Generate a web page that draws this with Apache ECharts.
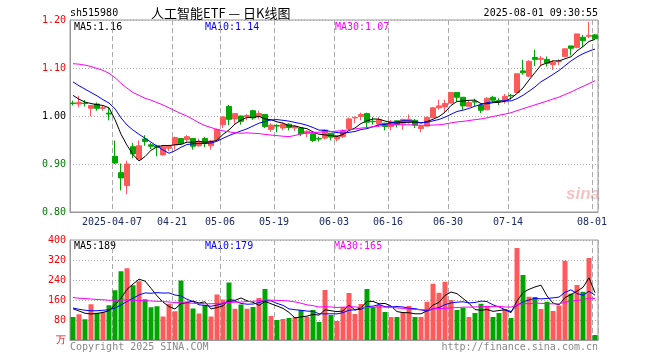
<!DOCTYPE html>
<html><head><meta charset="utf-8">
<script src="https://cdn.jsdelivr.net/npm/echarts@6/dist/echarts.min.js"></script>
<style>html,body{margin:0;padding:0;background:#fff}#c{width:660px;height:360px}</style>
</head><body><div id="c"></div>
<script>
const dates = ['2025-03-26','2025-03-27','2025-03-28','2025-03-31','2025-04-01','2025-04-02','2025-04-03','2025-04-07','2025-04-08','2025-04-09',
'2025-04-10','2025-04-11','2025-04-14','2025-04-15','2025-04-16','2025-04-17','2025-04-18','2025-04-21','2025-04-22','2025-04-23',
'2025-04-24','2025-04-25','2025-04-28','2025-04-29','2025-04-30','2025-05-06','2025-05-07','2025-05-08','2025-05-09','2025-05-12',
'2025-05-13','2025-05-14','2025-05-15','2025-05-16','2025-05-19','2025-05-20','2025-05-21','2025-05-22','2025-05-23','2025-05-26',
'2025-05-27','2025-05-28','2025-05-29','2025-05-30','2025-06-03','2025-06-04','2025-06-05','2025-06-06','2025-06-09','2025-06-10',
'2025-06-11','2025-06-12','2025-06-13','2025-06-16','2025-06-17','2025-06-18','2025-06-19','2025-06-20','2025-06-23','2025-06-24',
'2025-06-25','2025-06-26','2025-06-27','2025-06-30','2025-07-01','2025-07-02','2025-07-03','2025-07-04','2025-07-07','2025-07-08',
'2025-07-09','2025-07-10','2025-07-11','2025-07-14','2025-07-15','2025-07-16','2025-07-17','2025-07-18','2025-07-21','2025-07-22',
'2025-07-23','2025-07-24','2025-07-25','2025-07-28','2025-07-29','2025-07-30','2025-07-31','2025-08-01'];
const tickDates = ['2025-04-07','2025-04-21','2025-05-06','2025-05-19','2025-06-03','2025-06-16','2025-06-30','2025-07-14','2025-08-01'];

const opens = [1.027,1.025,1.027,1.016,1.025,1.016,1.006,0.916,0.882,0.855,
0.936,0.910,0.952,0.940,0.938,0.919,0.933,0.940,0.953,0.951,
0.953,0.938,0.953,0.938,0.951,0.982,1.020,0.994,1.000,0.999,
1.011,0.999,1.003,0.972,0.980,0.975,0.983,0.975,0.975,0.964,
0.963,0.953,0.954,0.964,0.952,0.957,0.974,0.996,0.999,1.005,
0.989,0.983,0.985,0.978,0.990,0.985,0.988,0.991,0.974,0.979,
0.997,1.017,1.019,1.027,1.049,1.039,1.020,1.030,1.023,1.013,
1.039,1.032,1.030,1.043,1.049,1.094,1.083,1.122,1.118,1.118,
1.107,1.113,1.124,1.146,1.143,1.164,1.166,1.169];
const closes = [1.026,1.028,1.026,1.022,1.016,1.018,1.004,0.902,0.871,0.900,
0.921,0.938,0.947,0.937,0.935,0.936,0.937,0.955,0.942,0.957,
0.937,0.946,0.944,0.948,0.972,0.998,0.993,1.005,0.989,1.001,
0.996,1.005,0.978,0.981,0.979,0.983,0.976,0.978,0.963,0.968,
0.949,0.952,0.971,0.956,0.959,0.969,0.994,0.997,1.003,0.987,
0.988,0.992,0.978,0.988,0.982,0.993,0.993,0.981,0.978,0.997,
1.017,1.021,1.026,1.049,1.039,1.021,1.028,1.029,1.012,1.037,
1.033,1.031,1.041,1.042,1.088,1.090,1.114,1.118,1.120,1.110,
1.112,1.114,1.140,1.141,1.171,1.157,1.168,1.161];
const lows = [1.022,1.018,1.020,0.999,1.011,1.011,0.991,0.900,0.845,0.837,
0.912,0.910,0.938,0.931,0.916,0.917,0.927,0.930,0.940,0.946,
0.930,0.936,0.935,0.930,0.948,0.975,0.981,0.984,0.982,0.991,
0.992,0.994,0.975,0.967,0.966,0.970,0.970,0.969,0.958,0.956,
0.946,0.947,0.951,0.949,0.947,0.954,0.972,0.985,0.991,0.977,
0.982,0.977,0.970,0.970,0.976,0.971,0.984,0.975,0.966,0.978,
0.995,1.013,1.008,1.026,1.030,1.013,1.019,1.021,1.006,1.012,
1.030,1.023,1.026,1.034,1.048,1.086,1.081,1.104,1.105,1.103,
1.096,1.106,1.123,1.126,1.141,1.144,1.162,1.161];
const highs = [1.032,1.042,1.033,1.022,1.028,1.022,1.017,0.949,0.901,0.907,
0.944,0.949,0.960,0.944,0.940,0.938,0.939,0.957,0.953,0.960,
0.953,0.953,0.956,0.950,0.974,0.999,1.023,1.006,1.001,1.004,
1.013,1.011,1.003,0.985,0.983,0.986,0.985,0.981,0.977,0.970,
0.963,0.957,0.972,0.964,0.960,0.972,0.997,0.999,1.007,1.007,
0.998,0.998,0.986,0.992,0.990,0.994,1.003,0.994,0.980,0.999,
1.019,1.034,1.034,1.049,1.049,1.039,1.032,1.036,1.023,1.039,
1.042,1.037,1.046,1.046,1.088,1.117,1.116,1.138,1.125,1.124,
1.116,1.118,1.140,1.146,1.171,1.169,1.196,1.171];
const volumes = [92,103,83,143,109,113,139,199,275,287,
219,235,163,131,135,94,145,115,238,155,
126,106,140,94,182,162,230,125,142,125,
132,168,204,96,80,84,88,92,120,93,
120,72,200,100,76,132,188,104,144,204,
132,140,112,92,92,112,136,92,92,153,
225,189,233,160,120,129,92,108,145,136,
92,108,124,88,368,260,173,172,124,153,
116,138,317,185,220,193,328,20];

const ma5Head = [1.043,1.035,1.029,1.026];
const ma10Head = [1.071,1.063,1.056,1.049,1.042,1.034,1.027,1.015,0.996];
const ma30Head = [1.109,1.108,1.106,1.103,1.099,1.095,1.089,1.080,1.068,1.058,
1.049,1.043,1.037,1.033,1.028,1.023,1.017,1.011,1.005,1.000,
0.993,0.986,0.980,0.976,0.972,0.969,0.967,0.965,0.964];
const vma5Head = [125,116,107,104];
const vma10Head = [128,123,119,117,117,119,121,128,140];
const vma30Head = [170,167,166,164,162,161,159,159,160,160,
159,158,157,156,155,154,152,150,149,148,
147,146,145,145,146,148,150,151,152];

function ma(vals, n, head) {
  return vals.map((v, i) => {
    if (i < n - 1) return head[i];
    let s = 0; for (let k = i - n + 1; k <= i; k++) s += vals[k];
    return +(s / n).toFixed(4);
  });
}
const ma5 = ma(closes, 5, ma5Head), ma10 = ma(closes, 10, ma10Head), ma30 = ma(closes, 30, ma30Head);
const vma5 = ma(volumes, 5, vma5Head), vma10 = ma(volumes, 10, vma10Head), vma30 = ma(volumes, 30, vma30Head);

const RED = '#ff5a5a', GREEN = '#00a600';
const kData = dates.map((d, i) => [opens[i], closes[i], lows[i], highs[i]]);
const volData = volumes.map((v, i) => ({ value: v, itemStyle: { color: closes[i] >= opens[i] ? RED : GREEN } }));
const tickSet = new Set(tickDates.map(d => dates.indexOf(d)));
const isTick = (idx) => tickSet.has(idx);
const MONO = 'DejaVu Sans Mono';
const last = dates.length - 1;

const chart = echarts.init(document.getElementById('c'), null, { renderer: 'canvas' });
const gridBase = { show: true, borderColor: '#999', borderWidth: 1, backgroundColor: '#fff' };
const xBase = (gi, showLabel) => ({
  type: 'category', gridIndex: gi, data: dates, boundaryGap: true,
  axisLine: { show: true, lineStyle: { color: '#999' } },
  axisTick: { show: false },
  axisLabel: {
    show: showLabel, interval: isTick, fontFamily: MONO, fontSize: 10, color: '#1c2a6a', margin: 5,
    padding: [0, 6, 0, 0],
    formatter: (v, idx) => (dates.indexOf(v) === dates.indexOf(tickDates[0]) ? v : v.slice(5))
  },
  splitLine: { show: true, interval: isTick, lineStyle: { color: '#aaa', type: [5, 3], width: 1 } }
});

const txt = (x, y, text, color, extra) => Object.assign({
  type: 'text', x: x, y: y,
  style: Object.assign({ text: text, fill: color, font: '10px "' + MONO + '"', textVerticalAlign: 'middle' }, extra || {})
}, {});

chart.setOption({
  animation: false,
  backgroundColor: '#fff',
  grid: [
    Object.assign({ left: 70, top: 20, width: 528, height: 192 }, gridBase),
    Object.assign({ left: 70, top: 240, width: 528, height: 100 }, gridBase)
  ],
  xAxis: [xBase(0, true), xBase(1, false)],
  yAxis: [
    { type: 'value', gridIndex: 0, min: 0.8, max: 1.2, interval: 0.1,
      axisLine: { show: true, lineStyle: { color: '#999' } }, axisTick: { show: false },
      axisLabel: { fontFamily: MONO, fontSize: 10, margin: 4, formatter: v => v.toFixed(2),
        color: v => (v > 1.0001 ? '#ff0000' : (v < 0.9999 ? '#008000' : '#000')) },
      splitLine: { show: true, lineStyle: { color: '#aaa', type: [1, 2] } } },
    { type: 'value', gridIndex: 1, min: 0, max: 400, interval: 80,
      axisLine: { show: true, lineStyle: { color: '#999' } }, axisTick: { show: false },
      axisLabel: { fontFamily: MONO, fontSize: 10, margin: 4, formatter: v => (v === 0 ? '万' : String(v)),
        color: v => (v === 0 ? '#999' : '#ff0000') },
      splitLine: { show: true, lineStyle: { color: '#aaa', type: [1, 2] } } }
  ],
  series: [
    { type: 'candlestick', xAxisIndex: 0, yAxisIndex: 0, data: kData, barWidth: 5,
      itemStyle: { color: RED, color0: GREEN, borderColor: RED, borderColor0: GREEN, borderWidth: 1 } },
    { type: 'line', xAxisIndex: 0, yAxisIndex: 0, data: ma5, symbol: 'none', lineStyle: { color: '#000', width: 1 } },
    { type: 'line', xAxisIndex: 0, yAxisIndex: 0, data: ma10, symbol: 'none', lineStyle: { color: '#0000ff', width: 1 } },
    { type: 'line', xAxisIndex: 0, yAxisIndex: 0, data: ma30, symbol: 'none', lineStyle: { color: '#ff00ff', width: 1 } },
    { type: 'bar', xAxisIndex: 1, yAxisIndex: 1, data: volData, barWidth: 5 },
    { type: 'line', xAxisIndex: 1, yAxisIndex: 1, data: vma5, symbol: 'none', lineStyle: { color: '#000', width: 1 } },
    { type: 'line', xAxisIndex: 1, yAxisIndex: 1, data: vma10, symbol: 'none', lineStyle: { color: '#0000ff', width: 1 } },
    { type: 'line', xAxisIndex: 1, yAxisIndex: 1, data: vma30, symbol: 'none', lineStyle: { color: '#ff00ff', width: 1 } }
  ],
  graphic: [
    txt(70, 13, 'sh515980', '#000'),
    { type: 'text', x: 151, y: 13, style: { text: '人工智能ETF — 日K线图', fill: '#000', font: '13px "Noto Sans CJK SC"', textVerticalAlign: 'middle' } },
    txt(598, 13, '2025-08-01 09:30:55', '#000', { textAlign: 'right' }),
    txt(74, 27, 'MA5:' + ma5[last].toFixed(2), '#000'),
    txt(205, 27, 'MA10:' + ma10[last].toFixed(2), '#0000ff'),
    txt(335, 27, 'MA30:' + ma30[last].toFixed(2), '#ff00ff'),
    txt(74, 246, 'MA5:' + Math.round(vma5[last]), '#000'),
    txt(205, 246, 'MA10:' + Math.round(vma10[last]), '#0000ff'),
    txt(334, 246, 'MA30:' + Math.round(vma30[last]), '#ff00ff'),
    txt(70, 347, 'Copyright 2025 SINA.COM', '#888'),
    txt(598, 347, 'http://finance.sina.com.cn', '#888', { textAlign: 'right' }),
    { type: 'text', x: 566, y: 194, z: 0, style: { text: 'sina', fill: 'rgba(235,120,120,0.45)', font: 'italic bold 17px "Liberation Sans"', textVerticalAlign: 'middle' } }
  ]
});
</script></body></html>
